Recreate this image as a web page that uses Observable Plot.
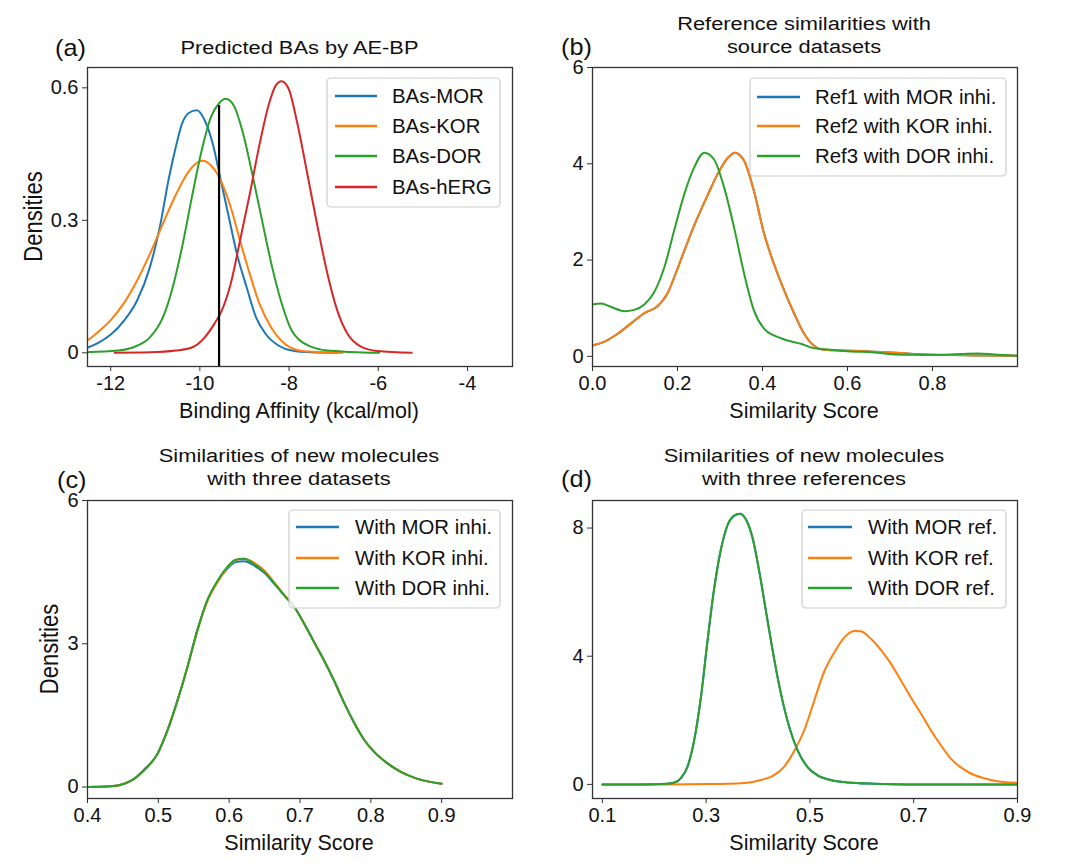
<!DOCTYPE html>
<html>
<head>
<meta charset="utf-8">
<script src="https://cdn.jsdelivr.net/npm/d3@7"></script>
<script src="https://cdn.jsdelivr.net/npm/@observablehq/plot@0.6"></script>
<style>
html, body { margin: 0; padding: 0; background: #fff; }
#fig { position: relative; width: 1080px; height: 863px; overflow: hidden; font-family: "Liberation Sans", Arial, sans-serif; }
#fig .panel { position: absolute; }
#overlay { position: absolute; left: 0; top: 0; pointer-events: none; }
</style>
</head>
<body>
<div id="fig"></div>
<script>
// ---------------- Data ----------------
const colors = ["#1f77b4", "#ff7f0e", "#2ca02c", "#d62728"];

// (a) Predicted BAs by AE-BP
const aNames = ["BAs-MOR", "BAs-KOR", "BAs-DOR", "BAs-hERG"];
const aMOR = [[-12.6,0.009],[-12.51,0.012],[-12.27,0.023],[-11.99,0.042],[-11.70,0.073],[-11.41,0.118],[-11.12,0.194],[-10.90,0.284],[-10.69,0.398],[-10.54,0.466],[-10.40,0.519],[-10.25,0.543],[-10.07,0.549],[-9.89,0.526],[-9.71,0.473],[-9.53,0.39],[-9.35,0.307],[-9.17,0.224],[-8.95,0.148],[-8.74,0.08],[-8.52,0.042],[-8.23,0.016],[-7.94,0.005],[-7.5,0.001],[-6.9,0]];
const aKOR = [[-12.6,0.024],[-12.51,0.029],[-12.27,0.048],[-11.99,0.075],[-11.70,0.113],[-11.41,0.163],[-11.12,0.224],[-10.83,0.292],[-10.54,0.358],[-10.25,0.411],[-10.04,0.432],[-9.93,0.435],[-9.75,0.424],[-9.53,0.39],[-9.31,0.33],[-9.10,0.254],[-8.88,0.178],[-8.66,0.11],[-8.38,0.054],[-8.09,0.02],[-7.80,0.006],[-7.4,0.002],[-6.8,0]];
const aDOR = [[-12.6,0.001],[-11.84,0.005],[-11.41,0.016],[-11.12,0.035],[-10.83,0.08],[-10.61,0.148],[-10.40,0.239],[-10.18,0.352],[-9.96,0.458],[-9.75,0.534],[-9.57,0.565],[-9.42,0.575],[-9.24,0.56],[-9.03,0.496],[-8.81,0.398],[-8.59,0.292],[-8.38,0.194],[-8.16,0.11],[-7.94,0.05],[-7.78,0.03],[-7.51,0.014],[-7.14,0.005],[-6.62,0.002],[-5.98,0]];
const aHERG = [[-11.91,0],[-11.12,0.001],[-10.54,0.005],[-10.18,0.012],[-9.89,0.035],[-9.68,0.065],[-9.53,0.091],[-9.31,0.156],[-9.10,0.254],[-8.88,0.36],[-8.66,0.473],[-8.45,0.564],[-8.30,0.605],[-8.17,0.615],[-8.01,0.598],[-7.82,0.522],[-7.59,0.405],[-7.36,0.285],[-7.14,0.179],[-6.92,0.096],[-6.69,0.043],[-6.39,0.014],[-6.02,0.004],[-5.25,0]];
const aThreshold = -9.57, aThresholdTop = 0.56;
const aXTicks = [-12, -10, -8, -6, -4];
const aYTicks = [0, 0.3, 0.6];

// (b) Reference similarities with source datasets
const bNames = ["Ref1 with MOR inhi.", "Ref2 with KOR inhi.", "Ref3 with DOR inhi."];
const bRef2 = [[0.0,0.228],[0.027,0.30],[0.059,0.47],[0.09,0.68],[0.122,0.90],[0.153,1.04],[0.176,1.30],[0.2,1.82],[0.224,2.38],[0.247,2.88],[0.27,3.33],[0.294,3.78],[0.318,4.12],[0.335,4.23],[0.357,4.06],[0.38,3.43],[0.404,2.54],[0.427,1.92],[0.451,1.37],[0.475,0.88],[0.498,0.47],[0.52,0.23],[0.545,0.138],[0.584,0.124],[0.631,0.11],[0.678,0.09],[0.725,0.069],[0.78,0.041],[0.843,0.028],[0.898,0.021],[1.0,0.014]];
const bRef1 = bRef2; // Ref1 curve lies entirely under Ref2 in the reference
const bRef3 = [[0.0,1.076],[0.02,1.10],[0.043,1.03],[0.075,0.94],[0.098,0.966],[0.122,1.076],[0.145,1.33],[0.169,1.85],[0.192,2.61],[0.216,3.37],[0.239,3.92],[0.263,4.23],[0.286,4.09],[0.31,3.50],[0.333,2.68],[0.357,1.71],[0.38,0.95],[0.404,0.57],[0.427,0.434],[0.459,0.331],[0.49,0.262],[0.52,0.172],[0.56,0.138],[0.608,0.103],[0.663,0.083],[0.71,0.041],[0.757,0.034],[0.82,0.034],[0.867,0.048],[0.906,0.062],[0.945,0.041],[1.0,0.014]];
const bXTicks = [0, 0.2, 0.4, 0.6, 0.8];
const bYTicks = [0, 2, 4, 6];

// (c) Similarities of new molecules with three datasets
const cNames = ["With MOR inhi.", "With KOR inhi.", "With DOR inhi."];
const cDOR = [[0.4,0],[0.433,0.014],[0.452,0.07],[0.466,0.17],[0.48,0.35],[0.499,0.70],[0.513,1.19],[0.527,1.81],[0.541,2.51],[0.555,3.28],[0.569,3.91],[0.584,4.33],[0.598,4.62],[0.609,4.76],[0.621,4.78],[0.635,4.67],[0.65,4.50],[0.664,4.26],[0.678,4.01],[0.692,3.77],[0.706,3.42],[0.72,3.03],[0.734,2.65],[0.748,2.23],[0.763,1.74],[0.777,1.33],[0.791,0.98],[0.805,0.73],[0.824,0.49],[0.843,0.31],[0.866,0.17],[0.9,0.07]];
const cMOR = [[0.4,0],[0.433,0.014],[0.452,0.07],[0.466,0.18],[0.48,0.37],[0.499,0.70],[0.513,1.19],[0.527,1.81],[0.541,2.51],[0.555,3.28],[0.569,3.90],[0.584,4.31],[0.598,4.58],[0.609,4.71],[0.621,4.73],[0.635,4.64],[0.65,4.48],[0.664,4.25],[0.678,4.01],[0.692,3.77],[0.706,3.42],[0.72,3.03],[0.734,2.65],[0.748,2.23],[0.763,1.74],[0.777,1.33],[0.791,0.98],[0.805,0.73],[0.824,0.49],[0.843,0.31],[0.866,0.17],[0.9,0.07]];
const cKOR = [[0.4,0],[0.433,0.014],[0.452,0.07],[0.466,0.17],[0.48,0.35],[0.499,0.70],[0.513,1.19],[0.527,1.81],[0.541,2.51],[0.555,3.26],[0.569,3.88],[0.584,4.30],[0.598,4.60],[0.609,4.75],[0.621,4.78],[0.635,4.70],[0.65,4.53],[0.664,4.28],[0.678,4.02],[0.692,3.77],[0.706,3.42],[0.72,3.03],[0.734,2.65],[0.748,2.23],[0.763,1.74],[0.777,1.33],[0.791,0.98],[0.805,0.73],[0.824,0.49],[0.843,0.31],[0.866,0.17],[0.9,0.07]];
const cXTicks = [0.4, 0.5, 0.6, 0.7, 0.8, 0.9];
const cYTicks = [0, 3, 6];

// (d) Similarities of new molecules with three references
const dNames = ["With MOR ref.", "With KOR ref.", "With DOR ref."];
const dDOR = [[0.1,0],[0.174,0],[0.225,0.02],[0.238,0.05],[0.251,0.19],[0.264,0.55],[0.277,1.38],[0.29,2.73],[0.302,4.39],[0.315,6.06],[0.328,7.30],[0.341,8.08],[0.354,8.39],[0.365,8.45],[0.376,8.29],[0.389,7.72],[0.402,6.68],[0.415,5.43],[0.428,4.19],[0.444,2.84],[0.46,1.80],[0.476,1.07],[0.495,0.55],[0.514,0.29],[0.54,0.135],[0.572,0.06],[0.624,0.02],[0.688,0],[0.9,0]];
const dMOR = dDOR; // MOR curve is hidden beneath the DOR curve in the reference
const dKOR = [[0.1,0],[0.225,0],[0.302,0.01],[0.341,0.02],[0.38,0.05],[0.405,0.135],[0.431,0.29],[0.45,0.55],[0.469,1.02],[0.489,1.69],[0.508,2.60],[0.527,3.50],[0.547,4.12],[0.566,4.58],[0.585,4.79],[0.598,4.78],[0.617,4.55],[0.637,4.19],[0.656,3.77],[0.675,3.25],[0.694,2.73],[0.714,2.21],[0.733,1.69],[0.752,1.23],[0.771,0.81],[0.791,0.53],[0.81,0.34],[0.836,0.19],[0.861,0.10],[0.9,0.05]];
const dXTicks = [0.1, 0.3, 0.5, 0.7, 0.9];
const dYTicks = [0, 4, 8];

// ---------------- Drawing ----------------
const FONT = '"Liberation Sans", Arial, sans-serif';
const fig = document.getElementById("fig");

function makePanel(cfg) {
  const rows = cfg.series.flatMap((data, i) => data.map(([x, y]) => ({x, y, name: cfg.names[i]})));
  const plot = Plot.plot({
    width: cfg.width, height: cfg.height,
    marginLeft: cfg.m[0], marginRight: cfg.m[1], marginTop: cfg.m[2], marginBottom: cfg.m[3],
    style: {fontFamily: FONT, fontSize: "20px", color: "#111", background: "transparent", overflow: "visible"},
    x: {domain: cfg.xDomain, label: null},
    y: {domain: cfg.yDomain, label: null},
    color: {domain: cfg.names, range: colors.slice(0, cfg.names.length)},
    marks: [
      Plot.line(rows, {x: "x", y: "y", z: "name", stroke: "name", strokeWidth: 2, curve: "monotone-x", clip: true}),
      ...(cfg.extra || []),
      Plot.frame({stroke: "#333", strokeWidth: 1.3}),
      Plot.axisX({ticks: cfg.xTicks, tickFormat: cfg.xFmt, tickSize: 5, tickPadding: 4, fontSize: 20, label: null, stroke: "#333"}),
      Plot.axisY({ticks: cfg.yTicks, tickFormat: cfg.yFmt, tickSize: 5, tickPadding: 4, fontSize: 20, label: null, stroke: "#333"})
    ]
  });
  plot.classList.add("panel");
  plot.style.left = cfg.left + "px";
  plot.style.top = cfg.top + "px";
  fig.appendChild(plot);
}

const f1 = d => d.toFixed(1);
const fy = d => d === 0 ? "0" : String(d);

makePanel({
  left: 0, top: 0, width: 540, height: 430, m: [87, 28, 67, 64],
  names: aNames, series: [aMOR, aKOR, aDOR, aHERG],
  xDomain: [-12.52, -2.99], yDomain: [-0.031, 0.646],
  xTicks: aXTicks, xFmt: d => String(d), yTicks: aYTicks, yFmt: d => d === 0 ? "0" : d.toFixed(1),
  extra: [Plot.ruleX([{x: aThreshold, y1: -0.031, y2: aThresholdTop}], {x: "x", y1: "y1", y2: "y2", stroke: "#000", strokeWidth: 2.2})]
});
makePanel({
  left: 540, top: 0, width: 540, height: 430, m: [52, 63, 67, 64],
  names: bNames, series: [bRef1, bRef2, bRef3],
  xDomain: [0, 1], yDomain: [-0.21, 6],
  xTicks: bXTicks, xFmt: f1, yTicks: bYTicks, yFmt: fy
});
makePanel({
  left: 0, top: 430, width: 540, height: 433, m: [87, 28, 70, 65],
  names: cNames, series: [cMOR, cKOR, cDOR],
  xDomain: [0.4, 1.0], yDomain: [-0.24, 6],
  xTicks: cXTicks, xFmt: f1, yTicks: cYTicks, yFmt: fy
});
makePanel({
  left: 540, top: 430, width: 540, height: 433, m: [52, 63, 70, 65],
  names: dNames, series: [dMOR, dKOR, dDOR],
  xDomain: [0.081, 0.9], yDomain: [-0.44, 8.86],
  xTicks: dXTicks, xFmt: f1, yTicks: dYTicks, yFmt: fy
});

// ---------------- Text overlay: titles, labels, legends ----------------
const svg = d3.select(fig).append("svg").attr("id", "overlay")
  .attr("width", 1080).attr("height", 863)
  .style("font-family", FONT);

function txt(s, x, y, size, opts = {}) {
  const sx = opts.sx || 1, sy = opts.sy || 1, rot = opts.rot || 0;
  svg.append("text")
    .attr("transform", `translate(${x},${y}) rotate(${rot}) scale(${sx},${sy})`)
    .attr("text-anchor", opts.anchor || "middle")
    .attr("font-size", size)
    .attr("fill", "#111")
    .text(s);
}

// panel titles
txt("Predicted BAs by AE-BP", 299.5, 54, 19, {sx: 1.15});
txt("Reference similarities with", 804, 29.5, 19, {sx: 1.15});
txt("source datasets", 804, 52.5, 19, {sx: 1.15});
txt("Similarities of new molecules", 299, 462, 19, {sx: 1.15});
txt("with three datasets", 299, 485, 19, {sx: 1.15});
txt("Similarities of new molecules", 804, 462, 19, {sx: 1.15});
txt("with three references", 804, 485, 19, {sx: 1.15});

// panel letters
txt("(a)", 55, 56, 23, {anchor: "start", sx: 1.1});
txt("(b)", 561, 55, 23, {anchor: "start", sx: 1.1});
txt("(c)", 57, 488, 23, {anchor: "start", sx: 1.1});
txt("(d)", 561, 487, 23, {anchor: "start", sx: 1.1});

// axis labels
txt("Binding Affinity (kcal/mol)", 299, 418, 21.5);
txt("Similarity Score", 804, 418, 21.5);
txt("Similarity Score", 299, 850, 21.5);
txt("Similarity Score", 804, 850, 21.5);
txt("Densities", 42, 216.5, 22, {rot: -90, sy: 1.15});
txt("Densities", 58, 649, 22, {rot: -90, sy: 1.15});

// legends
function legend(box, x1, x2, tx, rows, names) {
  svg.append("rect").attr("x", box[0]).attr("y", box[1]).attr("width", box[2]).attr("height", box[3])
    .attr("rx", 4).attr("fill", "#fff").attr("fill-opacity", 0.8)
    .attr("stroke", "#cccccc").attr("stroke-width", 1.2);
  names.forEach((n, i) => {
    svg.append("line").attr("x1", x1).attr("x2", x2).attr("y1", rows[i]).attr("y2", rows[i])
      .attr("stroke", colors[i]).attr("stroke-width", 2.5);
    svg.append("text").attr("x", tx).attr("y", rows[i] + 7).attr("font-size", 20.4)
      .attr("fill", "#111").text(n);
  });
}
legend([327, 78, 173, 129], 335, 377, 392, [96, 126, 156, 187], aNames);
legend([750, 78, 256, 98], 757, 800, 815, [97, 126, 156], bNames);
legend([289, 510, 211, 98], 296, 339, 355, [527, 558, 588], cNames);
legend([802, 510, 204, 98], 808, 852, 868, [527, 558, 588], dNames);
</script>
</body>
</html>
